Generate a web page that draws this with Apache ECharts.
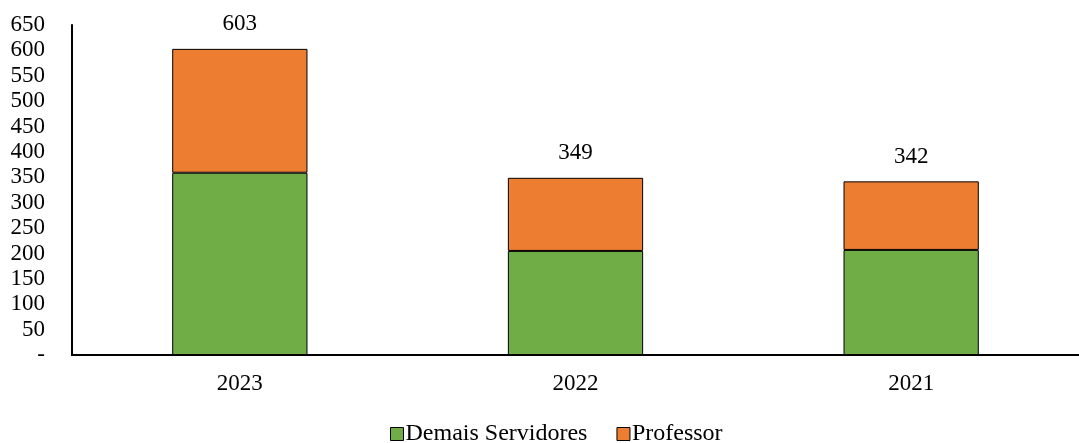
<!DOCTYPE html>
<html><head><meta charset="utf-8">
<script src="https://cdn.jsdelivr.net/npm/echarts@6/dist/echarts.min.js"></script>
<style>html,body{margin:0;padding:0;background:#fff}#c{width:1079px;height:443px}</style>
</head><body><div id="c"></div>
<script>
const categories = ['2023', '2022', '2021'];
const demaisServidores = [359, 205, 207];
const professor = [244, 144, 135];
const yTicks = [0, 50, 100, 150, 200, 250, 300, 350, 400, 450, 500, 550, 600, 650];
const totals = categories.map((_, i) => demaisServidores[i] + professor[i]);
const font = 'Liberation Serif';
const chart = echarts.init(document.getElementById('c'));
chart.setOption({
  animation: false,
  textStyle: { fontFamily: font },
  grid: { left: 72, right: 0, top: 25, bottom: 88, containLabel: false },
  legend: {
    bottom: -8, left: 385, itemWidth: 13, itemHeight: 13, itemGap: 29,
    icon: 'rect',
    textStyle: { fontFamily: font, fontSize: 24, color: '#000', padding: [0, 0, 0, -3] },
    data: [
      { name: 'Demais Servidores', itemStyle: { borderColor: '#000', borderWidth: 1 } },
      { name: 'Professor', itemStyle: { borderColor: '#000', borderWidth: 1 } }
    ]
  },
  xAxis: {
    type: 'category', data: categories,
    axisLine: { lineStyle: { color: '#000', width: 2 } },
    axisTick: { show: false },
    axisLabel: { fontFamily: font, fontSize: 23, color: '#000', margin: 17 }
  },
  yAxis: {
    type: 'value', min: yTicks[0], max: yTicks[yTicks.length - 1], interval: 50,
    axisLine: { show: true, lineStyle: { color: '#000', width: 2 } },
    axisTick: { show: false },
    splitLine: { show: false },
    axisLabel: { fontFamily: font, fontSize: 23, color: '#000', margin: 27,
      formatter: v => v === 0 ? '-' : String(v) }
  },
  series: [
    { name: 'Demais Servidores', type: 'bar', stack: 'a', data: demaisServidores, barWidth: '40.3%',
      itemStyle: { color: '#70AD47', borderColor: '#000', borderWidth: 1 } },
    { name: 'Professor', type: 'bar', stack: 'a', data: professor, barWidth: '40.3%',
      itemStyle: { color: '#ED7D31', borderColor: '#000', borderWidth: 1 },
      label: { show: true, position: 'top', distance: 13, fontFamily: font, fontSize: 23, color: '#000',
        formatter: p => String(totals[p.dataIndex]) } }
  ]
});
</script></body></html>
